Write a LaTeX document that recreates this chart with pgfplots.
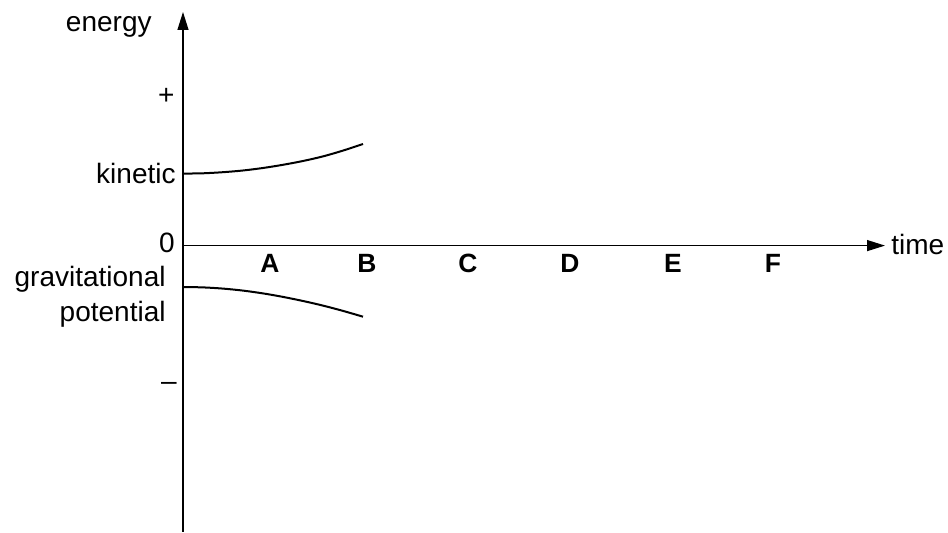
\documentclass[border=0pt]{standalone}
\usepackage{fontspec}
\setmainfont{Liberation Sans}
\usepackage{pgfplots}
\pgfplotsset{compat=1.18}
\usetikzlibrary{arrows.meta}
\tikzset{
  lbl/.style={inner sep=0pt, font=\fontsize{14}{16}\selectfont},
  letter/.style={inner sep=0pt, anchor=base, font=\fontsize{13.2}{15}\selectfont\bfseries}}

\begin{document}
\begin{tikzpicture}
\begin{axis}[
  x=0.5pt, y=0.5pt,
  xmin=0, xmax=702, ymin=-286.4, ymax=233.6,
  axis lines=middle, ticks=none, clip=false,
  axis line style={line width=0.65pt, black},
  x axis line style={-{Triangle[length=9pt,width=5.5pt]}},
  y axis line style={-{Triangle[length=9pt,width=5.5pt]}},
]
% kinetic energy
\addplot[black, line width=1pt, smooth] coordinates
  {(0,72) (20,72.3) (40,73.4) (60,75.1) (80,77.6) (100,80.8) (120,84.6) (140,89.2) (160,95) (180,101.6)};
% gravitational potential energy
\addplot[black, line width=1pt, smooth] coordinates
  {(0,-41.4) (20,-41.8) (40,-43) (60,-45) (80,-47.8) (100,-51.3) (120,-55.4) (140,-60) (160,-65.3) (180,-71.1)};

\node[lbl, anchor=base east] at (axis cs:-31,213.6) {energy};
\node[lbl, anchor=east] at (axis cs:-8,149.6) {+};
\node[lbl, anchor=base east] at (axis cs:-7,62.3) {kinetic};
\node[lbl, anchor=base east] at (axis cs:-8,-7.4) {0};
\node[lbl, anchor=base east] at (axis cs:-17,-41.4) {gravitational};
\node[lbl, anchor=base east] at (axis cs:-17,-76.4) {potential};
\node[lbl, anchor=east] at (axis cs:-6,-141) {\textendash};
\node[lbl, anchor=base west] at (axis cs:708,-9.4) {time};

\node[letter] at (axis cs:87,-27.4) {A};
\node[letter] at (axis cs:184,-27.4) {B};
\node[letter] at (axis cs:285,-27.4) {C};
\node[letter] at (axis cs:387,-27.4) {D};
\node[letter] at (axis cs:490,-27.4) {E};
\node[letter] at (axis cs:590,-27.4) {F};

\path (axis cs:-183,-286.4) rectangle (axis cs:765,245.6);
\end{axis}
\end{tikzpicture}
\end{document}
